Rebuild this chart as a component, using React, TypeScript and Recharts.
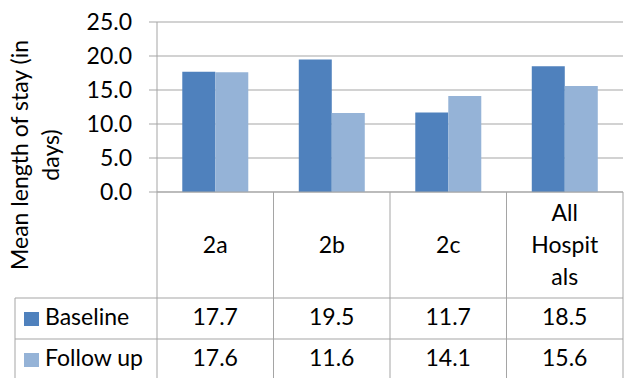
import { BarChart, Bar, XAxis, YAxis, CartesianGrid, Customized } from 'recharts'

const categories = ['2a', '2b', '2c', 'All Hospitals']
// category cell text as it wraps inside the data table
const categoryLines = [['2a'], ['2b'], ['2c'], ['All', 'Hospit', 'als']]
const baseline = [17.7, 19.5, 11.7, 18.5]
const followUp = [17.6, 11.6, 14.1, 15.6]
const yTicks = [0, 5, 10, 15, 20, 25]
const seriesNames = ['Baseline', 'Follow up']
const seriesColors = ['#4f81bd', '#95b3d7']
const yLabelLines = ['Mean length of stay (in', 'days)']

const chartData = categories.map((name, i) => ({
  name,
  baseline: baseline[i],
  followUp: followUp[i],
}))

const W = 624
const H = 378
const TOP = 22
const LEFT = 157
const RIGHT = 1
const PLOT_BOTTOM = 192
const BAND = (W - LEFT - RIGHT) / categories.length
const ROW1 = 298
const ROW2 = 339
const LINE = '#a5a5a5'
const FONT = 'Lato, "Liberation Sans", sans-serif'
const FS = 23

const textStyle = { fontFamily: FONT, fontSize: FS, fill: '#000' }

function TableTick(props: any) {
  const { x, index } = props
  const half = BAND / 2
  const lines = categoryLines[index] ?? []
  const firstBase = 253 - (lines.length - 1) * 32 / 2
  return (
    <g>
      {index === 0 && (
        <line x1={x - half} x2={x - half} y1={PLOT_BOTTOM} y2={H} stroke={LINE} />
      )}
      <line x1={x + half} x2={x + half} y1={PLOT_BOTTOM} y2={H} stroke={LINE} />
      {lines.map((t, k) => (
        <text key={k} x={x} y={firstBase + k * 32} textAnchor="middle" style={textStyle}>
          {t}
        </text>
      ))}
      <text x={x} y={325} textAnchor="middle" style={textStyle}>
        {baseline[index].toFixed(1)}
      </text>
      <text x={x} y={366} textAnchor="middle" style={textStyle}>
        {followUp[index].toFixed(1)}
      </text>
    </g>
  )
}

// legend column, row rules and the rotated axis title
function TableFrame() {
  return (
    <g>
      <line x1={15} x2={W - RIGHT} y1={ROW1} y2={ROW1} stroke={LINE} />
      <line x1={15} x2={W - RIGHT} y1={ROW2} y2={ROW2} stroke={LINE} />
      <line x1={15} x2={15} y1={ROW1} y2={H} stroke={LINE} />
      {seriesNames.map((s, i) => (
        <g key={s}>
          <rect x={24} y={312 + i * 41} width={15} height={14} fill={seriesColors[i]} />
          <text x={45} y={325 + i * 41} style={textStyle}>{s}</text>
        </g>
      ))}
      {yLabelLines.map((t, i) => (
        <text
          key={t}
          x={28 + i * 31}
          y={155}
          textAnchor="middle"
          transform={`rotate(-90, ${28 + i * 31}, 155)`}
          style={textStyle}
        >
          {t}
        </text>
      ))}
    </g>
  )
}

export default function App() {
  return (
    <div style={{ position: 'absolute', left: 0, top: 0, background: '#fff' }}>
      <BarChart
        width={W}
        height={H}
        data={chartData}
        margin={{ top: TOP, right: RIGHT, left: 0, bottom: 0 }}
        barGap={0}
        barCategoryGap="21.7%"
      >
        <CartesianGrid vertical={false} stroke={LINE} />
        <YAxis
          width={LEFT}
          domain={[0, 25]}
          ticks={yTicks}
          tickFormatter={(v) => Number(v).toFixed(1)}
          tick={textStyle}
          tickSize={8}
          tickMargin={17}
          axisLine={{ stroke: LINE }}
          tickLine={{ stroke: LINE }}
        />
        <XAxis
          dataKey="name"
          height={H - PLOT_BOTTOM}
          interval={0}
          tick={<TableTick />}
          tickLine={false}
          axisLine={{ stroke: LINE }}
        />
        <Bar dataKey="baseline" name={seriesNames[0]} fill={seriesColors[0]} isAnimationActive={false} />
        <Bar dataKey="followUp" name={seriesNames[1]} fill={seriesColors[1]} isAnimationActive={false} />
        <Customized component={TableFrame} />
      </BarChart>
    </div>
  )
}
